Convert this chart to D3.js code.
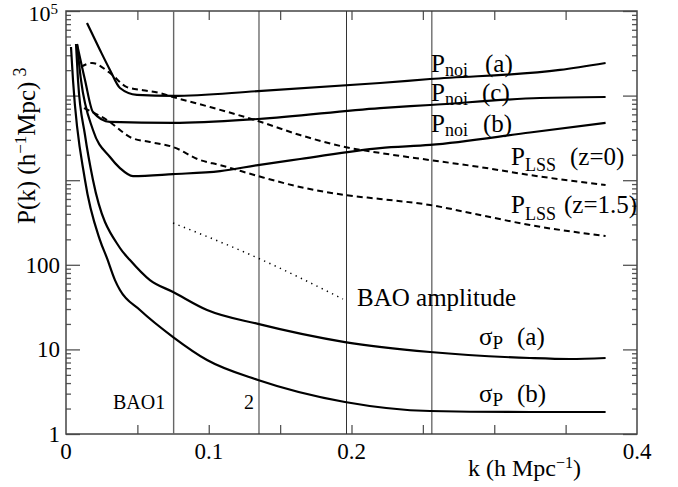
<!doctype html>
<html>
<head>
<meta charset="utf-8">
<script src="https://cdn.jsdelivr.net/npm/d3@7"></script>
<style>
  body { margin: 0; background: #fff; }
  text { font-family: "Liberation Serif", "Times New Roman", serif; fill: #000; }
</style>
</head>
<body>
<div id="chart"></div>
<script>
// values: k in h/Mpc, P in (h^-1 Mpc)^3
var pnoiA_k = [0.0147, 0.0238, 0.0308, 0.0378, 0.0497, 0.075, 0.1345, 0.22, 0.255, 0.346, 0.378];
var pnoiA_p = [72000, 34600, 20100, 12300, 10200, 9900, 11300, 14100, 15700, 20100, 24300];

var pnoiC_k = [0.0077, 0.0133, 0.0189, 0.0308, 0.075, 0.1345, 0.22, 0.255, 0.332, 0.378];
var pnoiC_p = [40700, 15300, 6400, 4880, 4750, 5290, 7130, 7740, 9370, 9620];

var pnoiB_k = [0.0077, 0.0105, 0.0189, 0.0308, 0.0378, 0.0469, 0.075, 0.108, 0.1345, 0.164, 0.22, 0.255, 0.325, 0.378];
var pnoiB_p = [40700, 15300, 3920, 1880, 1390, 1120, 1180, 1280, 1510, 1780, 2400, 2610, 3660, 4750];

var lss0_k = [0.0105, 0.0182, 0.0308, 0.0427, 0.0539, 0.0659, 0.075, 0.1009, 0.1345, 0.1639, 0.1954, 0.22, 0.255, 0.29, 0.325, 0.378];
var lss0_p = [21800, 24300, 18500, 12600, 11600, 10700, 9620, 7330, 5010, 3420, 2470, 2100, 1730, 1430, 1150, 877];

var lss15_k = [0.0126, 0.0287, 0.0462, 0.0588, 0.075, 0.0939, 0.1079, 0.1345, 0.1639, 0.1954, 0.22, 0.255, 0.29, 0.325, 0.378];
var lss15_p = [7130, 5150, 3150, 2830, 2470, 1730, 1510, 1120, 832, 668, 600, 509, 388, 295, 219];

var sigA_k = [0.007, 0.0084, 0.0133, 0.0189, 0.0378, 0.0448, 0.0588, 0.075, 0.0988, 0.1345, 0.1954, 0.255, 0.325, 0.353, 0.378];
var sigA_p = [40700, 15300, 3420, 1005, 158, 114, 66, 47.7, 29.2, 20, 12.2, 9.31, 7.91, 7.7, 7.91];

var sigB_k = [0.0035, 0.0049, 0.0133, 0.0238, 0.0287, 0.0343, 0.0378, 0.0518, 0.075, 0.0988, 0.1345, 0.1954, 0.255, 0.325, 0.378];
var sigB_p = [37500, 15300, 1005, 196, 120, 66, 50.3, 29.2, 14, 7.49, 4.35, 2.39, 1.87, 1.82, 1.82];

var bao_k = [0.075, 0.1345, 0.194];
var bao_p = [312, 120, 39.4];

// BAO bin edges (vertical lines)
var baoEdges = [0.0754, 0.1352, 0.1965, 0.2563];

var xMinorTicks = [0.05, 0.1, 0.15, 0.2, 0.25, 0.3, 0.35];
var xLabelVals = [0, 0.1, 0.2, 0.4];
var yMajorTicks = [1, 10, 100, 1000, 10000, 100000];
var yLabelVals = [1, 10, 100];

var W = 678, H = 487;
var x = d3.scaleLinear().domain([0, 0.4]).range([66, 637]);
var y = d3.scaleLog().domain([1, 1e5]).range([434, 11]);

var svg = d3.select("#chart").append("svg")
  .attr("width", W).attr("height", H);

// ticks: bottom and top (pointing inward)
svg.append("g")
  .attr("transform", "translate(0," + y(1) + ")")
  .call(d3.axisBottom(x).tickValues(xMinorTicks).tickSize(-9).tickFormat(""))
  .call(function (g) { g.select(".domain").remove(); });
svg.append("g")
  .attr("transform", "translate(0," + y(1e5) + ")")
  .call(d3.axisTop(x).tickValues(xMinorTicks).tickSize(-9).tickFormat(""))
  .call(function (g) { g.select(".domain").remove(); });

// minor decade ticks for the log axis
var yMinor = [];
for (var d = 1; d < 1e5; d *= 10) {
  for (var m = 2; m <= 9; m++) yMinor.push(d * m);
}
svg.append("g")
  .attr("transform", "translate(" + x(0) + ",0)")
  .call(d3.axisRight(y).tickValues(yMajorTicks).tickSize(14).tickFormat(""))
  .call(function (g) { g.select(".domain").remove(); });
svg.append("g")
  .attr("transform", "translate(" + x(0) + ",0)")
  .call(d3.axisRight(y).tickValues(yMinor).tickSize(5).tickFormat(""))
  .call(function (g) { g.select(".domain").remove(); });
svg.append("g")
  .attr("transform", "translate(" + x(0.4) + ",0)")
  .call(d3.axisLeft(y).tickValues(yMajorTicks).tickSize(14).tickFormat(""))
  .call(function (g) { g.select(".domain").remove(); });
svg.append("g")
  .attr("transform", "translate(" + x(0.4) + ",0)")
  .call(d3.axisLeft(y).tickValues(yMinor).tickSize(5).tickFormat(""))
  .call(function (g) { g.select(".domain").remove(); });

svg.selectAll(".tick line").attr("stroke", "#555").attr("stroke-width", 1.3);

// frame
svg.append("rect")
  .attr("x", x(0)).attr("y", y(1e5))
  .attr("width", x(0.4) - x(0)).attr("height", y(1) - y(1e5))
  .attr("fill", "none").attr("stroke", "#444").attr("stroke-width", 1.5);

// vertical BAO lines
svg.selectAll(".edge").data(baoEdges).enter().append("line")
  .attr("x1", function (d) { return x(d); }).attr("x2", function (d) { return x(d); })
  .attr("y1", y(1)).attr("y2", y(1e5))
  .attr("stroke", function (d, i) { return i == 0 ? "#666" : "#333"; })
  .attr("stroke-width", function (d, i) { return i == 0 ? 1.4 : 1; });

// tick labels
svg.selectAll(".xl").data(xLabelVals).enter().append("text")
  .attr("x", function (d) { return x(d); }).attr("y", 459)
  .attr("text-anchor", "middle").style("font-size", "23px")
  .text(function (d) { return d; });
svg.selectAll(".yl").data(yLabelVals).enter().append("text")
  .attr("x", 60).attr("y", function (d) { return y(d) + 8; })
  .attr("text-anchor", "end").style("font-size", "23px")
  .text(function (d) { return d; });
var topLab = svg.append("text").attr("x", 58).attr("y", 21)
  .attr("text-anchor", "end").style("font-size", "22px");
topLab.append("tspan").text("10");
topLab.append("tspan").attr("dy", -7).style("font-size", "15px").text("5");

// axis titles
var xt = svg.append("text").attr("x", 468).attr("y", 476).style("font-size", "24px");
xt.append("tspan").text("k (h Mpc");
xt.append("tspan").attr("dy", -8).style("font-size", "16px").text("\u22121");
xt.append("tspan").attr("dy", 8).text(")");

var yt = svg.append("text")
  .attr("transform", "translate(35,224) rotate(-90)").style("font-size", "25px");
yt.append("tspan").text("P(k) (h");
yt.append("tspan").attr("dy", -9).style("font-size", "17px").text("\u22121");
yt.append("tspan").attr("dy", 9).text("Mpc)");
yt.append("tspan").attr("dy", -9).attr("dx", 5).style("font-size", "18px").text("3");

// curves
var line = d3.line()
  .x(function (d) { return x(d[0]); })
  .y(function (d) { return y(d[1]); })
  .curve(d3.curveMonotoneX);

function draw(ks, ps, dash, w) {
  svg.append("path")
    .datum(d3.zip(ks, ps))
    .attr("d", line)
    .attr("fill", "none")
    .attr("stroke", "#000")
    .attr("stroke-width", w)
    .attr("stroke-dasharray", dash);
}
draw(pnoiA_k, pnoiA_p, null, 2.2);
draw(pnoiC_k, pnoiC_p, null, 2.2);
draw(pnoiB_k, pnoiB_p, null, 2.2);
draw(sigA_k, sigA_p, null, 2.2);
draw(sigB_k, sigB_p, null, 2.2);
draw(lss0_k, lss0_p, "6,4", 2);
draw(lss15_k, lss15_p, "6,4", 2);
draw(bao_k, bao_p, "1.3,4.5", 1.5);

// curve labels: main symbol, subscript, then the bracket part
function label(px, py, main, sub, tail, tailX, subSize, subDy) {
  var t = svg.append("text").attr("x", px).attr("y", py).style("font-size", "25px");
  t.append("tspan").text(main);
  t.append("tspan").attr("dy", subDy).style("font-size", subSize + "px").text(sub);
  t.append("tspan").attr("x", tailX).attr("dy", -subDy).text(tail);
}
label(431, 72, "P", "noi", "(a)", 485, 18, 4);
label(431, 101, "P", "noi", "(c)", 482, 18, 4);
label(431, 132, "P", "noi", "(b)", 483, 18, 4);
label(511, 165, "P", "LSS", "(z=0)", 570, 18, 6);
label(511, 213, "P", "LSS", "(z=1.5)", 564, 18, 7);
label(479, 345, "\u03c3", "P", "(a)", 517, 19, 4);
label(479, 402, "\u03c3", "P", "(b)", 517, 19, 4);

svg.append("text").attr("x", 357).attr("y", 306).style("font-size", "25px").text("BAO amplitude");
svg.append("text").attr("x", 113).attr("y", 409).style("font-size", "20px").text("BAO1");
svg.append("text").attr("x", 244).attr("y", 409).style("font-size", "20px").text("2");
</script>
</body>
</html>
